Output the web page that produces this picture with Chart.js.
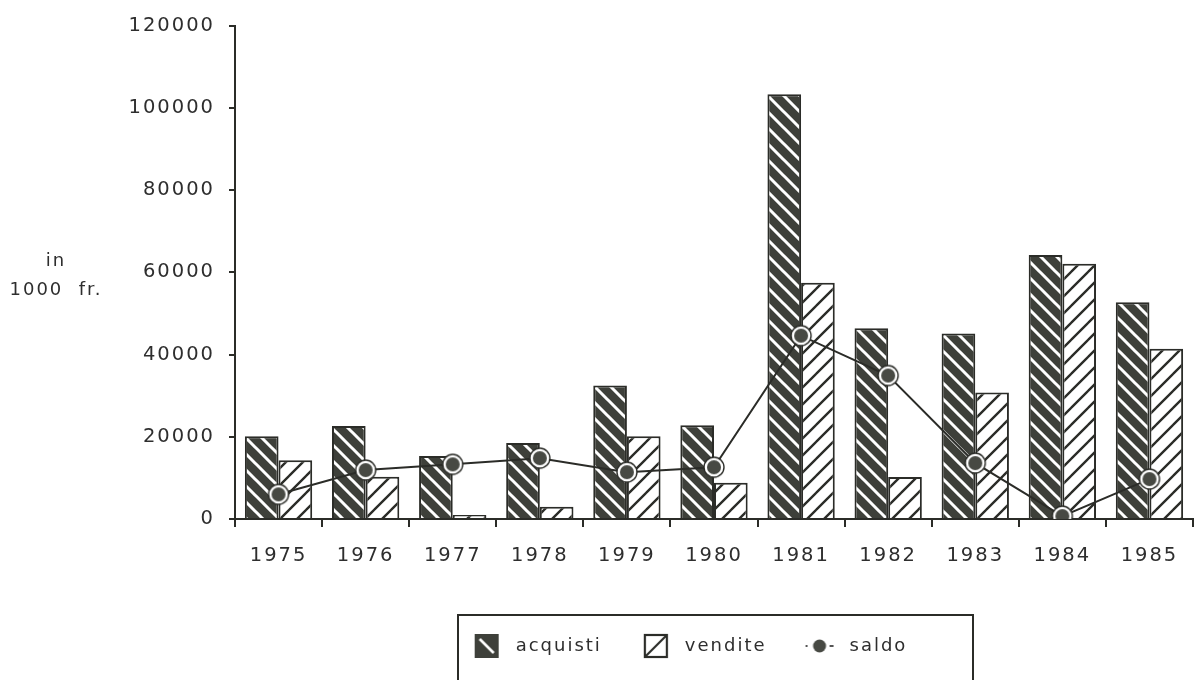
<!DOCTYPE html>
<html>
<head>
<meta charset="utf-8">
<script src="https://cdn.jsdelivr.net/npm/chart.js@4.4.1/dist/chart.umd.min.js"></script>
<style>
  html, body { margin: 0; padding: 0; background: #fff; overflow: hidden; }
  #wrap { position: relative; width: 1205px; height: 680px; }
</style>
</head>
<body>
<div id="wrap"><canvas id="c"></canvas></div>
<script>
// Annual purchases, sales and balance, in thousands of francs
const years    = ['1975', '1976', '1977', '1978', '1979', '1980', '1981', '1982', '1983', '1984', '1985'];
const acquisti = [20100, 22600, 15300, 18500, 32500, 22800, 103300, 46400, 45100, 64200, 52700];
const vendite  = [14300, 10300, 1000, 3000, 20100, 8800, 57500, 10200, 30800, 62100, 41400];
const saldo    = [6000, 11900, 13300, 14800, 11400, 12600, 44600, 34900, 13600, 700, 9700];
const yTicks   = [0, 20000, 40000, 60000, 80000, 100000, 120000];

const INK = '#2b2c28';
const TEXT = '#2e2e2e';
const BAR_DARK = '#3e403a';
const FONT = "'DejaVu Sans', Verdana, sans-serif";
const SPACING = '2px';

const canvas = document.getElementById('c');
const ctx = canvas.getContext('2d');

function makeCanvas(w, h, draw) {
  const c = document.createElement('canvas');
  c.width = w; c.height = h;
  draw(c.getContext('2d'), w, h);
  return c;
}

// Diagonal hatch pattern: '\\' or '/'
function hatch(bg, fg, lw, size, dir) {
  const tile = makeCanvas(size, size, (g) => {
    g.fillStyle = bg; g.fillRect(0, 0, size, size);
    g.strokeStyle = fg; g.lineWidth = lw; g.lineCap = 'square';
    g.beginPath();
    for (const k of [-size, 0, size]) {
      if (dir === '\\') { g.moveTo(k, 0); g.lineTo(k + size, size); }
      else { g.moveTo(k, size); g.lineTo(k + size, 0); }
    }
    g.stroke();
  });
  return ctx.createPattern(tile, 'repeat');
}

const patAcq = hatch(BAR_DARK, '#ffffff', 3, 16, '\\');
const patVen = hatch('#ffffff', INK, 2.4, 17, '/');

// Balance marker: dark dot inside a white ring with a thin outline
const dot = makeCanvas(24, 24, (g) => {
  g.beginPath(); g.arc(12, 12, 10, 0, Math.PI * 2);
  g.fillStyle = '#fff'; g.fill();
  g.lineWidth = 1.4; g.strokeStyle = INK; g.stroke();
  g.beginPath(); g.arc(12, 12, 7, 0, Math.PI * 2);
  g.fillStyle = '#474943'; g.fill();
});

// Legend symbols
const swAcq = makeCanvas(26, 26, (g) => {
  g.fillStyle = BAR_DARK; g.fillRect(1, 1, 24, 24);
  g.strokeStyle = '#fff'; g.lineWidth = 2.6;
  g.beginPath(); g.moveTo(6, 6); g.lineTo(20, 20); g.stroke();
});
const swVen = makeCanvas(26, 26, (g) => {
  g.fillStyle = '#fff'; g.fillRect(0, 0, 26, 26);
  g.strokeStyle = INK; g.lineWidth = 2.2;
  g.strokeRect(2, 2, 22, 22);
  g.beginPath(); g.moveTo(3, 23); g.lineTo(23, 3); g.stroke();
});
const swSal = makeCanvas(34, 18, (g) => {
  g.fillStyle = '#555';
  g.fillRect(2, 8, 2, 2);
  g.fillRect(26, 8, 4, 2);
  g.beginPath(); g.arc(16, 9, 6.5, 0, Math.PI * 2);
  g.fillStyle = '#474943'; g.fill();
});
const swatches = [swAcq, swVen, swSal];

// Wide type spacing for all canvas text
const letterSpacing = {
  id: 'letterSpacing',
  beforeUpdate(chart) { chart.ctx.letterSpacing = SPACING; },
  beforeLayout(chart) { chart.ctx.letterSpacing = SPACING; },
  beforeDraw(chart) { chart.ctx.letterSpacing = SPACING; }
};

// Place the legend row under the plot
const legendPlacement = {
  id: 'legendPlacement',
  afterLayout(chart) {
    const lg = chart.legend;
    const ca = chart.chartArea;
    const cx = ca.left + 452;
    const half = 330;
    lg.left = cx - half; lg.right = cx + half; lg.width = half * 2;
    const top = ca.bottom + 118 - lg.options.labels.padding;
    lg.top = top; lg.bottom = top + lg.height;
  }
};

// Unit caption beside the value axis, and the frame around the legend
const decorations = {
  id: 'decorations',
  afterDraw(chart) {
    const c = chart.ctx;
    const ca = chart.chartArea;
    c.save();
    c.letterSpacing = SPACING;
    c.font = '18px ' + FONT;
    c.fillStyle = TEXT;
    c.textAlign = 'center';
    c.textBaseline = 'middle';
    const mid = (ca.top + ca.bottom) / 2;
    c.fillText('in', ca.left - 179, mid - 11);
    c.fillText('1000  fr.', ca.left - 179, mid + 18);

    c.strokeStyle = INK;
    c.lineWidth = 2;
    c.strokeRect(ca.left + 223, ca.bottom + 96, 515, 80);
    c.restore();
  }
};

new Chart(ctx, {
  type: 'bar',
  data: {
    labels: years,
    datasets: [
      {
        label: 'acquisti',
        data: acquisti,
        order: 1,
        backgroundColor: patAcq,
        borderColor: INK,
        borderWidth: 2
      },
      {
        label: 'vendite',
        data: vendite,
        order: 1,
        backgroundColor: patVen,
        borderColor: INK,
        borderWidth: 2
      },
      {
        type: 'line',
        label: 'saldo',
        data: saldo,
        order: 0,
        borderColor: INK,
        borderWidth: 2,
        pointStyle: dot,
        pointRadius: 10,
        tension: 0,
        fill: false
      }
    ]
  },
  options: {
    responsive: true,
    maintainAspectRatio: false,
    animation: false,
    events: [],
    layout: { padding: { left: 0, right: 4, top: 24, bottom: 0 } },
    datasets: { bar: { categoryPercentage: 0.773, barPercentage: 1 } },
    scales: {
      x: {
        offset: true,
        grid: { drawOnChartArea: false, drawTicks: true, tickLength: 8, color: INK, lineWidth: 2, offset: true },
        border: { display: true, color: INK, width: 2 },
        ticks: { font: { family: FONT, size: 19.5 }, color: TEXT, padding: 17, maxRotation: 0, autoSkip: false },
        afterFit(s) { s.height = 161 - (s.chart.legend ? s.chart.legend.height : 0); }
      },
      y: {
        min: 0,
        max: 120000,
        afterBuildTicks(s) { s.ticks = yTicks.map(v => ({ value: v })); },
        grid: { drawOnChartArea: false, drawTicks: true, tickLength: 6, color: INK, lineWidth: 2 },
        border: { display: true, color: INK, width: 2 },
        ticks: { font: { family: FONT, size: 19.5 }, color: TEXT, padding: 14, callback: v => String(v) },
        afterFit(s) { s.width = 235; }
      }
    },
    plugins: {
      legend: {
        position: 'bottom',
        labels: {
          usePointStyle: true,
          pointStyleWidth: 40,
          padding: 34,
          font: { family: FONT, size: 18 },
          color: TEXT,
          generateLabels(chart) {
            return chart.data.datasets.map((ds, i) => ({
              text: ds.label,
              pointStyle: swatches[i],
              fillStyle: 'transparent',
              strokeStyle: 'transparent',
              lineWidth: 0,
              hidden: false,
              datasetIndex: i,
              fontColor: TEXT
            }));
          }
        }
      },
      tooltip: { enabled: false }
    }
  },
  plugins: [letterSpacing, legendPlacement, decorations]
});
</script>
</body>
</html>
